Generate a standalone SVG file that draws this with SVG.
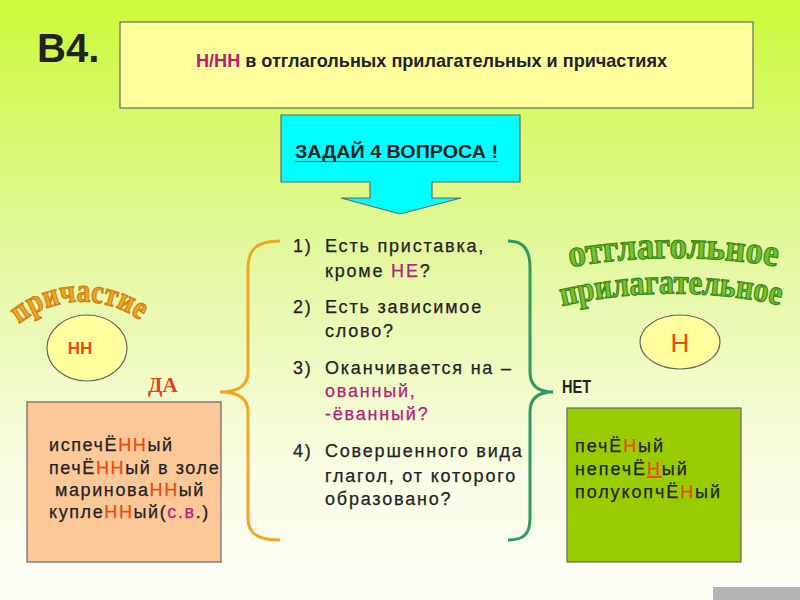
<svg xmlns="http://www.w3.org/2000/svg" width="800" height="600" viewBox="0 0 800 600">
<defs>
<linearGradient id="bg" x1="0" y1="0" x2="0" y2="1">
<stop offset="0" stop-color="#ccfa3a"/>
<stop offset="0.4" stop-color="#e2f89a"/>
<stop offset="0.8" stop-color="#fafde6"/>
<stop offset="1" stop-color="#fdfdf6"/>
</linearGradient>
<path id="arcL" d="M 19 324 A 100 100 0 0 1 145 324"/>
<path id="arcR1" d="M 570 267 Q 675 249 780 267"/>
<path id="arcR2" d="M 562 306 Q 672 281 784 306"/>
</defs>
<style>
.t{font-family:"Liberation Sans",Arial,sans-serif;fill:#222}
.q{font-size:18px;letter-spacing:1.8px;stroke:#222;stroke-width:0.25px}
.ex{font-size:18px;letter-spacing:1.6px;stroke:#222;stroke-width:0.25px}
.mag{fill:#b4207c}
.red{fill:#e84a10}
.q .mag,.q.mag,.ex .mag{stroke:#b4207c}
.ex .red{stroke:#e84a10}
.box{stroke:#666;stroke-width:1.2}
.wa{font-family:"Liberation Serif","Times New Roman",serif;font-weight:bold;stroke-width:1.3}
</style>
<rect width="800" height="600" fill="url(#bg)"/>
<rect x="713" y="587" width="87" height="13" fill="#b4b4b4"/>

<g id="label-b4"><text class="t" x="37" y="62" font-size="40" font-weight="bold" fill="#111">B4.</text></g>

<g id="title">
<rect class="box" x="120" y="22" width="633" height="86" fill="#ffff9e"/>
<text class="t" x="196" y="67" font-size="19" font-weight="bold" textLength="471" lengthAdjust="spacingAndGlyphs"><tspan class="mag">Н/НН</tspan> в отглагольных прилагательных и причастиях</text>
</g>

<g id="ask">
<path class="box" d="M281 115 H520 V182 H432 V198 H461 L400 214 L341 198 H370 V182 H281 Z" fill="#00ffff"/>
<text class="t" x="295" y="158" font-size="17.5" font-weight="bold" fill="#1a1a40" textLength="203" lengthAdjust="spacingAndGlyphs">ЗАДАЙ 4 ВОПРОСА !</text>
<line x1="295" y1="161.5" x2="498" y2="161.5" stroke="#1a1a40" stroke-width="1.2"/>
</g>

<g id="connectors" fill="none" stroke-width="3">
<path d="M 280 241 C 256 241 248 250 248 268 L 248 372 C 248 386 238 392 220 392 C 238 392 248 398 248 412 L 248 518 C 248 534 258 540 280 540" stroke="#f0a526"/>
<path d="M 508 241 C 524 241 530 250 530 268 L 530 372 C 530 386 538 392 553 392 C 538 392 530 398 530 412 L 530 518 C 530 534 524 540 508 540" stroke="#2e9a62"/>
</g>

<g id="questions">
<text class="t q" x="293" y="252">1)</text>
<text class="t q" x="325" y="252">Есть приставка,</text>
<text class="t q" x="325" y="277">кроме <tspan class="mag">НЕ</tspan>?</text>
<text class="t q" x="293" y="313">2)</text>
<text class="t q" x="325" y="313">Есть зависимое</text>
<text class="t q" x="325" y="337">слово?</text>
<text class="t q" x="293" y="374">3)</text>
<text class="t q" x="325" y="374">Оканчивается на –</text>
<text class="t q mag" x="325" y="397">ованный,</text>
<text class="t q mag" x="325" y="420">-ёванный?</text>
<text class="t q" x="293" y="457">4)</text>
<text class="t q" x="325" y="457">Совершенного вида</text>
<text class="t q" x="325" y="482">глагол, от которого</text>
<text class="t q" x="325" y="505">образовано?</text>
</g>

<g id="prichastie">
<text class="wa" font-size="33" fill="#f3a522" stroke="#d08212"><textPath href="#arcL" textLength="130" lengthAdjust="spacingAndGlyphs">причастие</textPath></text>
</g>

<g id="nn-ellipse">
<ellipse cx="87" cy="348" rx="40" ry="33" fill="#ffff9e" stroke="#666" stroke-width="1.2"/>
<text class="t red" x="80" y="354" font-size="17" font-weight="bold" text-anchor="middle">НН</text>
</g>

<g id="da"><text x="148" y="392" font-family="'Liberation Serif',serif" font-weight="bold" font-size="21" fill="#e2441a">ДА</text></g>

<g id="left-box">
<rect class="box" x="27" y="402" width="194" height="160" fill="#fdc898"/>
<text class="t ex" x="49" y="451">испечЁ<tspan class="red">НН</tspan>ый</text>
<text class="t ex" x="49" y="474">печЁ<tspan class="red">НН</tspan>ый в золе</text>
<text class="t ex" x="55" y="496">маринова<tspan class="red">НН</tspan>ый</text>
<text class="t ex" x="49" y="518">купле<tspan class="red">НН</tspan>ый(<tspan class="mag">с.в</tspan>.)</text>
</g>

<g id="otglag">
<text class="wa" font-size="38" fill="#74c228" stroke="#3c8a1a"><textPath href="#arcR1" textLength="208" lengthAdjust="spacingAndGlyphs">отглагольное</textPath></text>
<text class="wa" font-size="35" fill="#74c228" stroke="#3c8a1a"><textPath href="#arcR2" textLength="220" lengthAdjust="spacingAndGlyphs">прилагательное</textPath></text>
</g>

<g id="n-ellipse">
<ellipse cx="680" cy="342" rx="40" ry="27" fill="#ffff9e" stroke="#666" stroke-width="1.2"/>
<text class="t red" x="680" y="352" font-size="26" text-anchor="middle">Н</text>
</g>

<g id="net"><text class="t" x="562" y="393" font-size="18" font-weight="bold" fill="#1fa050" textLength="29" lengthAdjust="spacingAndGlyphs">НЕТ</text></g>

<g id="right-box">
<rect class="box" x="567" y="408" width="174" height="154" fill="#99cc00"/>
<text class="t ex" x="575" y="452" style="letter-spacing:1.9px">печЁ<tspan class="red">Н</tspan>ый</text>
<text class="t ex" x="575" y="475" style="letter-spacing:1.9px">непечЁ<tspan class="red" text-decoration="underline">Н</tspan>ый</text>
<text class="t ex" x="575" y="498" style="letter-spacing:1.9px">полукопчЁ<tspan class="red">Н</tspan>ый</text>
</g>
</svg>
